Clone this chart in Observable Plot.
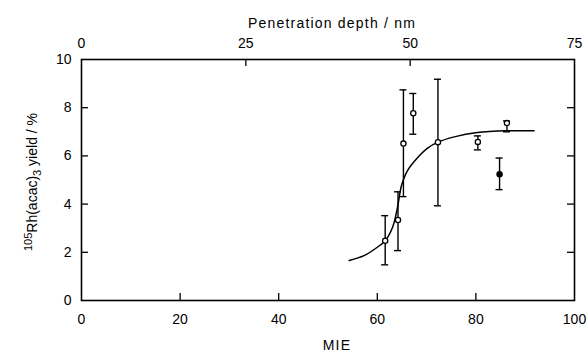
<!DOCTYPE html>
<html><head><meta charset="utf-8">
<script src="https://cdn.jsdelivr.net/npm/d3@7"></script>
<script src="https://cdn.jsdelivr.net/npm/@observablehq/plot@0.6"></script>
<style>body{margin:0;background:#fff;}</style>
</head><body><div id="chart"></div>
<script>
// Measured points (MIE vs 105Rh(acac)3 yield, %)
const mie      = [61.6, 64.2, 65.3, 67.3, 72.3, 80.4, 84.8, 86.3];
const yieldPct = [2.48, 3.34, 6.51, 7.77, 6.57, 6.58, 5.24, 7.36];
const errLow   = [1.48, 2.07, 4.31, 6.90, 3.93, 6.25, 4.60, 7.00];
const errHigh  = [3.52, 4.51, 8.74, 8.59, 9.18, 6.83, 5.91, 7.45];
const filled   = [false, false, false, false, false, false, true, false];
// Fitted curve
const fitMie   = [54.3, 57.3, 60.0, 61.6, 63.1, 64.1, 64.9, 66.1, 68.2, 70.2, 72.3, 75.6, 80.3, 86.4, 91.8];
const fitYield = [1.66, 1.86, 2.21, 2.48, 3.04, 3.86, 4.76, 5.38, 5.93, 6.32, 6.57, 6.79, 6.97, 7.04, 7.04];
// Axes
const xTicks = [0, 20, 40, 60, 80, 100];
const yTicks = [0, 2, 4, 6, 8, 10];
const depthTicks = [0, 25, 50, 75];
const depthPerMie = 0.75;
const titleTop = "Penetration depth / nm";
const titleBottom = "MIE";

const points = mie.map((m, i) => ({x: m, y: yieldPct[i], lo: errLow[i], hi: errHigh[i], filled: filled[i]}));
const fit = fitMie.map((m, i) => ({x: m, y: fitYield[i]}));
const innerX = xTicks.slice(1, -1);
const innerY = yTicks.slice(1, -1);
const innerDepth = depthTicks.slice(1, -1);

const plot = Plot.plot({
  width: 588,
  height: 357,
  marginLeft: 81,
  marginRight: 14,
  marginTop: 59,
  marginBottom: 57,
  style: {fontFamily: "'Liberation Sans', Arial, sans-serif", fontSize: "14px", color: "black", background: "white"},
  x: {domain: [0, 100], axis: null},
  y: {domain: [0, 10], axis: null},
  marks: [
    // inward ticks
    Plot.ruleX(innerX, {x: d => d, y1: 0, y2: 0, insetTop: -7, stroke: "black", strokeWidth: 1.3}),
    Plot.ruleX(innerDepth, {x: d => d / depthPerMie, y1: 10, y2: 10, insetBottom: -7, stroke: "black", strokeWidth: 1.3}),
    Plot.ruleY(innerY, {y: d => d, x1: 0, x2: 0, insetRight: -7, stroke: "black", strokeWidth: 1.3}),
    Plot.ruleY(innerY, {y: d => d, x1: 100, x2: 100, insetLeft: -7, stroke: "black", strokeWidth: 1.3}),
    // tick labels
    Plot.axisX(xTicks, {anchor: "bottom", tickSize: 0, tickPadding: 14, label: null, fontSize: 14}),
    Plot.axisX(depthTicks.map(d => d / depthPerMie), {anchor: "top", tickSize: 0, tickPadding: 12, label: null, fontSize: 14, tickFormat: d => String(Math.round(d * depthPerMie))}),
    Plot.axisY(yTicks, {anchor: "left", tickSize: 0, tickPadding: 10, label: null, fontSize: 14}),
    // titles
    Plot.text([titleTop], {frameAnchor: "top", dy: -41, dx: 4, text: d => d, fontSize: 14}),
    Plot.text([titleBottom], {frameAnchor: "bottom", dy: 49, dx: 9, text: d => d, fontSize: 14}),
    // fitted curve
    Plot.line(fit, {x: "x", y: "y", curve: "catmull-rom", stroke: "black", strokeWidth: 1.5}),
    // error bars
    Plot.ruleX(points, {x: "x", y1: "lo", y2: "hi", stroke: "black", strokeWidth: 1.4}),
    Plot.ruleY(points, {y: "hi", x1: "x", x2: "x", insetLeft: -3.5, insetRight: -3.5, stroke: "black", strokeWidth: 1.4}),
    Plot.ruleY(points, {y: "lo", x1: "x", x2: "x", insetLeft: -3.5, insetRight: -3.5, stroke: "black", strokeWidth: 1.4}),
    // points
    Plot.dot(points, {x: "x", y: "y", r: 2.6, stroke: "black", strokeWidth: 1.3, fill: d => d.filled ? "black" : "white"}),
    Plot.frame({stroke: "black", strokeWidth: 1.6})
  ]
});

document.getElementById("chart").appendChild(plot);
const svg = d3.select(plot);
svg.selectAll("text").filter(function() { return this.textContent === titleTop || this.textContent === titleBottom; })
  .attr("letter-spacing", "1.2px");

// y-axis label with superscript / subscript
const lab = svg.append("text")
  .attr("transform", "translate(37,182) rotate(-90)")
  .attr("text-anchor", "middle")
  .attr("font-size", 14)
  .attr("fill", "black");
lab.append("tspan").attr("font-size", 11).attr("dy", "-5").text("105");
lab.append("tspan").attr("dy", "5").text("Rh(acac)");
lab.append("tspan").attr("font-size", 11).attr("dy", "4").text("3");
lab.append("tspan").attr("dy", "-4").text(" yield / %");
</script>
</body></html>
